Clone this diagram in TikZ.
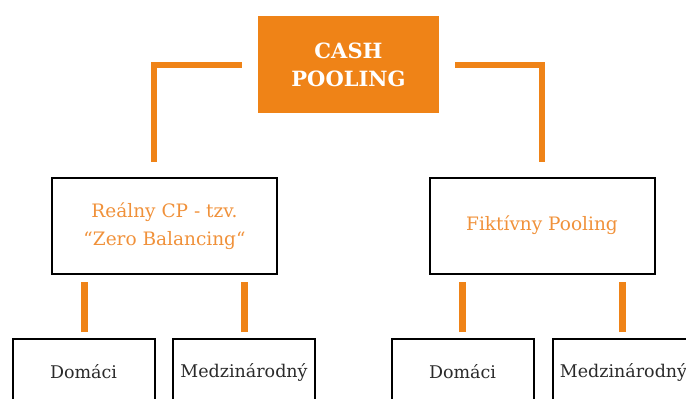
\documentclass[tikz,border=0pt]{standalone}
\usepackage{fontspec}
\setmainfont{DejaVu Serif}
\definecolor{orng}{HTML}{EF8317}
\definecolor{otxt}{HTML}{F0913A}
\definecolor{dtxt}{HTML}{2A2A2A}
\begin{document}
\begin{tikzpicture}[x=1pt,y=-1pt,
  topbox/.style={fill=orng,draw=none,minimum width=181pt,minimum height=97pt,inner sep=0pt,
    text=white,align=center,font=\fontsize{21}{28}\selectfont\bfseries},
  midbox/.style={draw=black,line width=2pt,minimum width=225pt,minimum height=96pt,inner sep=0pt,
    text=otxt,align=center,font=\fontsize{18.5}{28}\selectfont},
  lowbox/.style={draw=black,line width=2pt,minimum width=142pt,minimum height=66pt,inner sep=0pt,
    text=dtxt,align=center,font=\fontsize{17.5}{20}\selectfont},
  bracket/.style={draw=orng,line width=6pt},
  stem/.style={draw=orng,line width=7pt,shorten <=6pt,shorten >=7pt}]
\useasboundingbox (0,0) rectangle (686,399);
\node[topbox] (top) at (348.5,64.5) {CASH\\POOLING};
\node[midbox,text depth=3pt] (real) at (164.5,225.5) {Reálny CP - tzv.\\“Zero Balancing“};
\node[midbox] (fikt) at (542,225.5) {Fiktívny Pooling};
\node[lowbox] (dom1) at (83.5,372) {Domáci};
\node[lowbox] (med1) at (244,372) {Medzinárodný};
\node[lowbox] (dom2) at (462.5,372) {Domáci};
\node[lowbox] (med2) at (623.5,372) {Medzinárodný};
\draw[bracket,shorten <=16pt,shorten >=15pt] (top.west) -| ([xshift=-10.5pt]real.north);
\draw[bracket,shorten <=16pt,shorten >=15pt] (top.east) -| (fikt.north);
\draw[stem] ([xshift=1pt]dom1.north) -- ([xshift=1pt]dom1.north |- real.south);
\draw[stem] ([xshift=0.5pt]med1.north) -- ([xshift=0.5pt]med1.north |- real.south);
\draw[stem] (dom2.north) -- (dom2.north |- fikt.south);
\draw[stem] ([xshift=-1pt]med2.north) -- ([xshift=-1pt]med2.north |- fikt.south);
\end{tikzpicture}
\end{document}
